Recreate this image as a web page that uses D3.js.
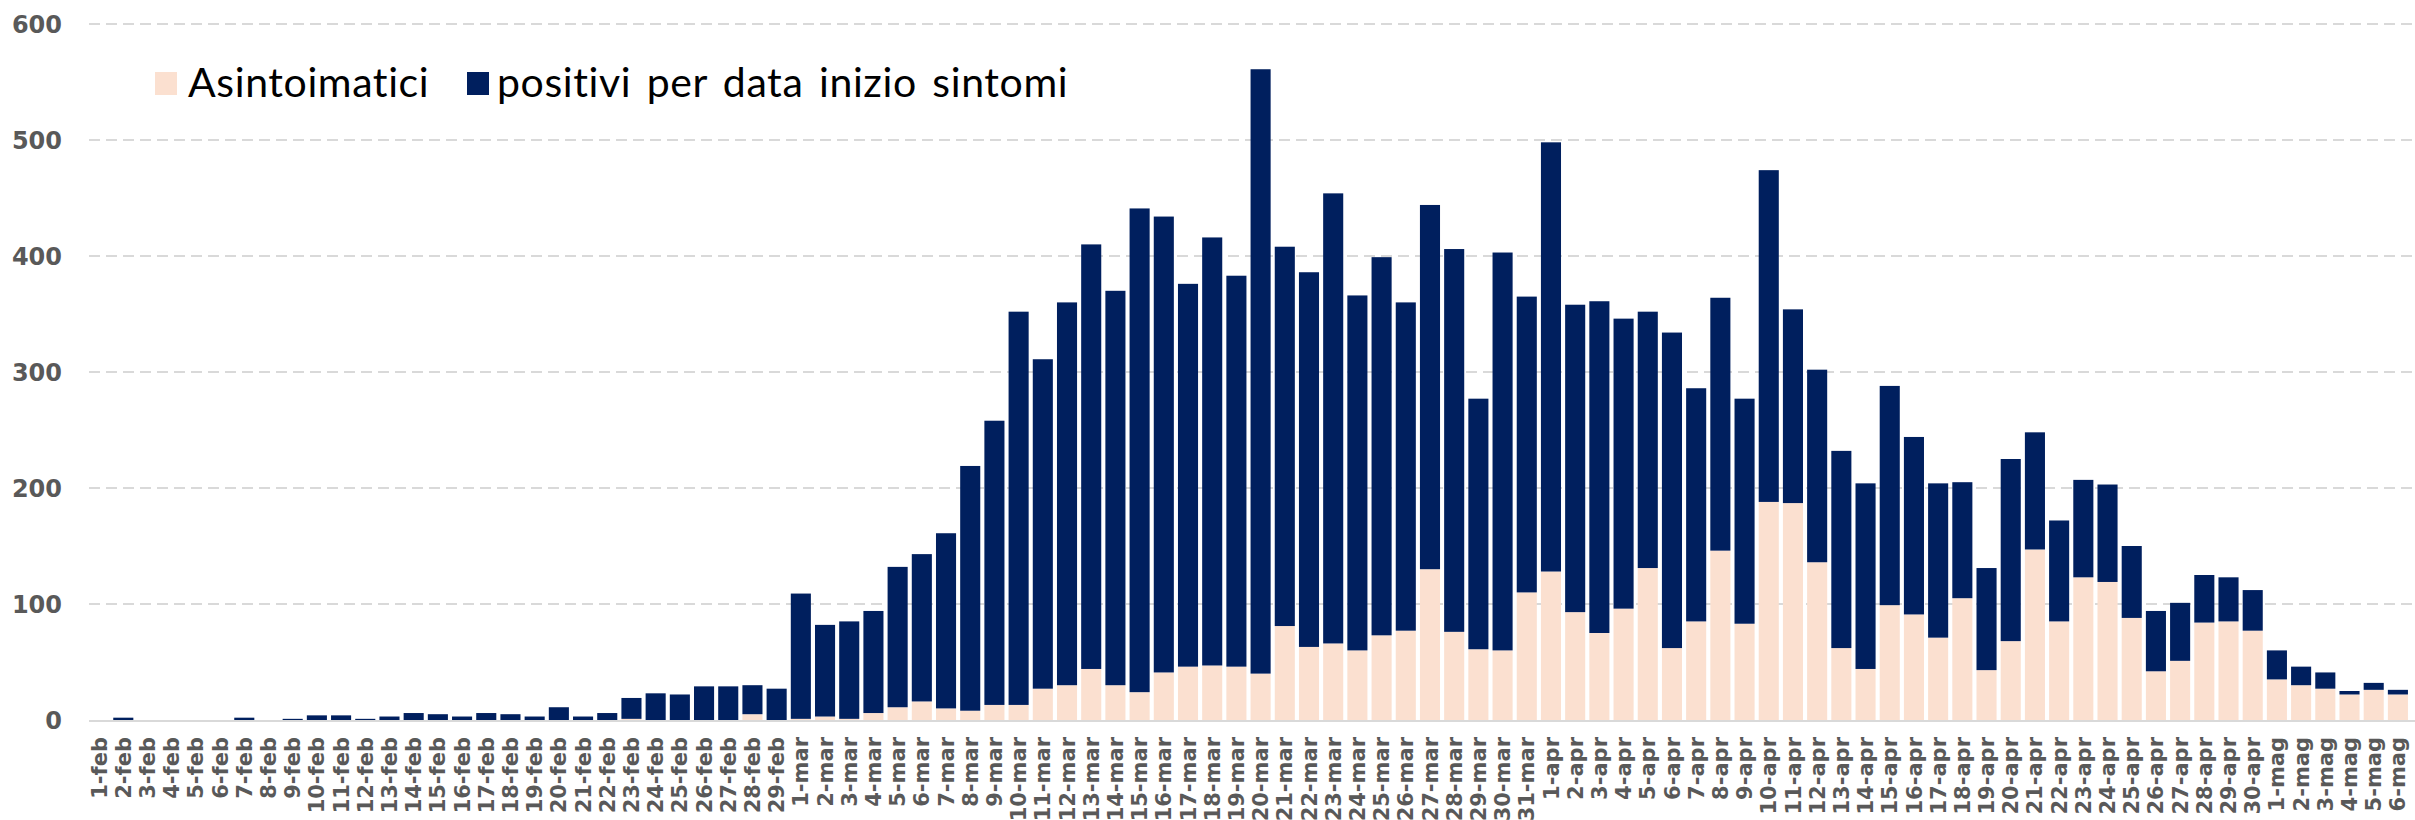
<!DOCTYPE html>
<html>
<head>
<meta charset="utf-8">
<script src="https://cdn.jsdelivr.net/npm/d3@7"></script>
<style>
  html, body { margin: 0; padding: 0; background: #ffffff; }
  svg { display: block; }
</style>
</head>
<body>
<svg id="chart" width="2415" height="820"></svg>
<script>
const categories = [
  "1-feb","2-feb","3-feb","4-feb","5-feb","6-feb","7-feb","8-feb","9-feb","10-feb",
  "11-feb","12-feb","13-feb","14-feb","15-feb","16-feb","17-feb","18-feb","19-feb","20-feb",
  "21-feb","22-feb","23-feb","24-feb","25-feb","26-feb","27-feb","28-feb","29-feb",
  "1-mar","2-mar","3-mar","4-mar","5-mar","6-mar","7-mar","8-mar","9-mar","10-mar",
  "11-mar","12-mar","13-mar","14-mar","15-mar","16-mar","17-mar","18-mar","19-mar","20-mar",
  "21-mar","22-mar","23-mar","24-mar","25-mar","26-mar","27-mar","28-mar","29-mar","30-mar","31-mar",
  "1-apr","2-apr","3-apr","4-apr","5-apr","6-apr","7-apr","8-apr","9-apr","10-apr",
  "11-apr","12-apr","13-apr","14-apr","15-apr","16-apr","17-apr","18-apr","19-apr","20-apr",
  "21-apr","22-apr","23-apr","24-apr","25-apr","26-apr","27-apr","28-apr","29-apr","30-apr",
  "1-mag","2-mag","3-mag","4-mag","5-mag","6-mag"
];

// Asintomatici (light segment)
const asintomatici = [
  0,0,0,0,0,0,0,0,0,0,
  0,0,0,0,0,0,0,0,0,0,
  0,0,1,0,0,0,0,5,0,
  1,3,1,6,11,16,10,8,13,13,
  27,30,44,30,24,41,46,47,46,40,
  81,63,66,60,73,77,130,76,61,60,110,
  128,93,75,96,131,62,85,146,83,188,
  187,136,62,44,99,91,71,105,43,68,
  147,85,123,119,88,42,51,84,85,77,
  35,30,27,22,26,22
];

// Positivi per data inizio sintomi (dark segment, stacked on top)
const sintomatici = [
  0,2,0,0,0,0,2,0,1,4,
  4,1,3,6,5,3,6,5,3,11,
  3,6,18,23,22,29,29,25,27,
  108,79,84,88,121,127,151,211,245,339,
  284,330,366,340,417,393,330,369,337,521,
  327,323,388,306,326,283,314,330,216,343,255,
  370,265,286,250,221,272,201,218,194,286,
  167,166,170,160,189,153,133,100,88,157,
  101,87,84,84,62,52,50,41,38,35,
  25,16,14,3,6,4
];

const yTicks = [0, 100, 200, 300, 400, 500, 600];
const seriesNames = ["Asintoimatici", "positivi per data inizio sintomi"];
const seriesColors = ["#fbe0d0", "#001f5e"];

const rows = categories.map((c, i) => ({
  cat: c,
  asintomatici: asintomatici[i],
  sintomatici: sintomatici[i]
}));

const svg = d3.select("#chart");

const x = d3.scaleBand()
  .domain(categories)
  .range([87, 2410])
  .paddingInner(0.17)
  .paddingOuter(0.085);

const y = d3.scaleLinear()
  .domain([0, 600])
  .range([720, 24]);

// gridlines
svg.append("g")
  .selectAll("line")
  .data(yTicks.filter(d => d > 0))
  .join("line")
  .attr("x1", 89)
  .attr("x2", 2415)
  .attr("y1", d => y(d))
  .attr("y2", d => y(d))
  .attr("stroke", "#d9d9d9")
  .attr("stroke-width", 2)
  .attr("stroke-dasharray", "11,6");

// y axis labels
const yAxis = d3.axisLeft(y).tickValues(yTicks).tickSize(0).tickPadding(0);
const gy = svg.append("g").attr("transform", "translate(62,0)").call(yAxis);
gy.select(".domain").remove();
gy.selectAll("text")
  .attr("font-family", "DejaVu Sans")
  .attr("font-weight", "bold")
  .attr("font-size", 24)
  .attr("fill", "#595959")
  .attr("dy", "0.36em");

// stacked bars
const stack = d3.stack().keys(["asintomatici", "sintomatici"]);
const stacked = stack(rows);

svg.append("g")
  .selectAll("g")
  .data(stacked)
  .join("g")
  .attr("fill", (d, i) => seriesColors[i])
  .selectAll("rect")
  .data(d => d)
  .join("rect")
  .attr("x", d => x(d.data.cat))
  .attr("width", x.bandwidth())
  .attr("y", d => y(d[1]))
  .attr("height", d => Math.max(0, y(d[0]) - y(d[1])));

// baseline
svg.append("line")
  .attr("x1", 89).attr("x2", 2415)
  .attr("y1", y(0) + 1).attr("y2", y(0) + 1)
  .attr("stroke", "#d9d9d9")
  .attr("stroke-width", 2);

// x axis labels
const xAxis = d3.axisBottom(x).tickSize(0).tickPadding(0);
const gx = svg.append("g").attr("transform", "translate(0,737)").call(xAxis);
gx.select(".domain").remove();
gx.selectAll("text")
  .attr("font-family", "DejaVu Sans")
  .attr("font-weight", "bold")
  .attr("font-size", 21)
  .attr("fill", "#595959")
  .attr("text-anchor", "end")
  .attr("transform", "rotate(-90)")
  .attr("x", 0)
  .attr("y", 0)
  .attr("dy", "0.36em");

// legend
const legend = svg.append("g");
const legendItems = [
  { name: seriesNames[0], color: seriesColors[0], sx: 155, tx: 188 },
  { name: seriesNames[1], color: seriesColors[1], sx: 467, tx: 497 }
];
legendItems.forEach(it => {
  legend.append("rect")
    .attr("x", it.sx).attr("y", 72)
    .attr("width", 22).attr("height", 23)
    .attr("fill", it.color);
  legend.append("text")
    .attr("x", it.tx).attr("y", 97)
    .attr("font-family", "Lato")
    .attr("font-size", 41)
    .attr("letter-spacing", 0.6)
    .attr("word-spacing", 4.5)
    .attr("fill", "#000000")
    .text(it.name);
});
</script>
</body>
</html>
